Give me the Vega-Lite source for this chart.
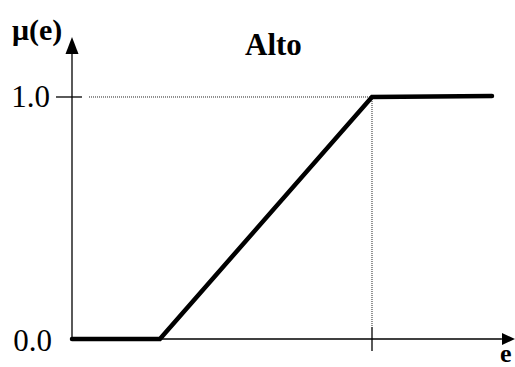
{
  "$schema": "https://vega.github.io/schema/vega-lite/v6.json",
  "width": 515,
  "height": 367,
  "autosize": {"type": "none"},
  "padding": 0,
  "background": "white",
  "config": {"view": {"stroke": null}},
  "encoding": {
    "x": {"type": "quantitative", "scale": {"domain": [-2.4, 14.7667], "nice": false, "zero": false}, "axis": null},
    "y": {"type": "quantitative", "scale": {"domain": [-0.1157, 1.4008], "nice": false, "zero": false}, "axis": null}
  },
  "layer": [
    {
      "data": {"values": [
        {"kind": "guide", "e": 0.567, "e2": 10, "m": 1, "m2": 1},
        {"kind": "guide", "e": 10, "e2": 10, "m": 1, "m2": 0.05}
      ]},
      "mark": {"type": "rule", "strokeDash": [1, 1], "strokeWidth": 1, "color": "#222"},
      "encoding": {"x": {"field": "e"}, "x2": {"field": "e2"}, "y": {"field": "m"}, "y2": {"field": "m2"}}
    },
    {
      "data": {"values": [
        {"kind": "xaxis", "e": 0, "e2": 14.33, "m": 0, "m2": 0},
        {"kind": "yaxis", "e": 0, "e2": 0, "m": 0, "m2": 1.18},
        {"kind": "ytick", "e": -0.533, "e2": 0.333, "m": 1, "m2": 1},
        {"kind": "xtick", "e": 10, "e2": 10, "m": 0.05, "m2": -0.05}
      ]},
      "mark": {"type": "rule", "strokeWidth": 1.3, "color": "black"},
      "encoding": {"x": {"field": "e"}, "x2": {"field": "e2"}, "y": {"field": "m"}, "y2": {"field": "m2"}}
    },
    {
      "data": {"values": [{"e": 14.55, "m": 0}]},
      "mark": {"type": "point", "shape": "M-1,-0.92L1,0L-1,0.92Z", "size": 169, "filled": true, "color": "black", "opacity": 1, "strokeWidth": 0},
      "encoding": {"x": {"field": "e"}, "y": {"field": "m"}}
    },
    {
      "data": {"values": [{"e": 0, "m": 1.2128}]},
      "mark": {"type": "point", "shape": "M-0.765,1L0,-1L0.765,1Z", "size": 289, "filled": true, "color": "black", "opacity": 1, "strokeWidth": 0},
      "encoding": {"x": {"field": "e"}, "y": {"field": "m"}}
    },
    {
      "data": {"values": [
        {"e": 0, "mu": 0},
        {"e": 2.93, "mu": 0},
        {"e": 10, "mu": 1},
        {"e": 14, "mu": 1.004}
      ]},
      "mark": {"type": "line", "strokeWidth": 4.5, "color": "black", "strokeCap": "round", "strokeJoin": "miter"},
      "encoding": {"x": {"field": "e"}, "y": {"field": "mu"}, "order": {"field": "e"}}
    },
    {
      "data": {"values": [
        {"label": "1.0", "e": -0.733, "m": 0.9587},
        {"label": "0.0", "e": -0.667, "m": -0.0496}
      ]},
      "mark": {"type": "text", "font": "'Liberation Serif', 'DejaVu Serif', serif", "fontSize": 31, "align": "right", "baseline": "alphabetic", "color": "black"},
      "encoding": {"x": {"field": "e"}, "y": {"field": "m"}, "text": {"field": "label"}}
    },
    {
      "data": {"values": [
        {"label": "μ(e)", "e": -2.0, "m": 1.2355}
      ]},
      "mark": {"type": "text", "font": "'Liberation Serif', 'DejaVu Serif', serif", "fontWeight": "bold", "fontSize": 30, "align": "left", "baseline": "alphabetic", "color": "black"},
      "encoding": {"x": {"field": "e"}, "y": {"field": "m"}, "text": {"field": "label"}}
    },
    {
      "data": {"values": [
        {"label": "Alto", "e": 5.767, "m": 1.1736}
      ]},
      "mark": {"type": "text", "font": "'Liberation Serif', 'DejaVu Serif', serif", "fontWeight": "bold", "fontSize": 31, "align": "left", "baseline": "alphabetic", "color": "black"},
      "encoding": {"x": {"field": "e"}, "y": {"field": "m"}, "text": {"field": "label"}}
    },
    {
      "data": {"values": [
        {"label": "e", "e": 14.267, "m": -0.095}
      ]},
      "mark": {"type": "text", "font": "'Liberation Serif', 'DejaVu Serif', serif", "fontWeight": "bold", "fontSize": 26, "align": "left", "baseline": "alphabetic", "color": "black"},
      "encoding": {"x": {"field": "e"}, "y": {"field": "m"}, "text": {"field": "label"}}
    }
  ]
}
